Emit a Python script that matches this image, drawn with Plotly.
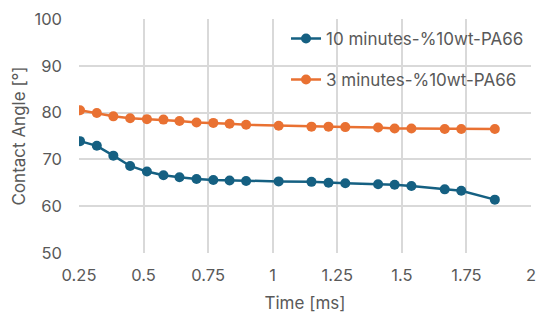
import plotly.graph_objects as go

time_ms = [0.254, 0.319, 0.383, 0.448, 0.513, 0.577, 0.639, 0.705, 0.770, 0.833, 0.897,
           1.023, 1.150, 1.216, 1.281, 1.408, 1.472, 1.537, 1.666, 1.730, 1.860]
angle_10min = [73.9, 72.9, 70.8, 68.6, 67.4, 66.6, 66.2, 65.8, 65.6, 65.5, 65.4,
               65.3, 65.2, 65.0, 64.9, 64.7, 64.6, 64.3, 63.6, 63.3, 61.4]
angle_3min = [80.5, 79.9, 79.2, 78.8, 78.6, 78.5, 78.2, 77.9, 77.8, 77.6, 77.4,
              77.2, 77.0, 77.0, 76.9, 76.8, 76.6, 76.6, 76.5, 76.5, 76.5]
series_names = ["10 minutes-%10wt-PA66", "3 minutes-%10wt-PA66"]
x_ticks = [0.25, 0.5, 0.75, 1, 1.25, 1.5, 1.75, 2]
x_tick_labels = ["0.25", "0.5", "0.75", "1", "1.25", "1.5", "1.75", "2"]
y_ticks = [50, 60, 70, 80, 90, 100]

FONT = "Inter, Open Sans, sans-serif"
TXT = "#595959"
GRID = "#d9d9d9"

fig = go.Figure()
fig.add_trace(go.Scatter(x=time_ms, y=angle_10min, mode="lines+markers", name=series_names[0],
                         legendgroup="a",
                         line=dict(color="#156082", width=2.5),
                         marker=dict(color="#156082", size=10)))
fig.add_trace(go.Scatter(x=time_ms, y=angle_3min, mode="lines+markers", name=series_names[1],
                         legendgroup="b",
                         line=dict(color="#E97132", width=2.5),
                         marker=dict(color="#E97132", size=10)))

fig.update_layout(
    width=550, height=322,
    margin=dict(l=79, r=19, t=19, b=69),
    paper_bgcolor="white", plot_bgcolor="white",
    font=dict(family=FONT, color=TXT, size=16),
    legend=dict(x=0.458, xanchor="left", y=0.992, yanchor="top",
                bgcolor="rgba(0,0,0,0)", font=dict(size=17, color=TXT),
                tracegroupgap=16, itemwidth=30),
    showlegend=True,
)
fig.update_xaxes(range=[0.25, 2], tickvals=x_ticks, ticktext=x_tick_labels,
                 showgrid=True, gridcolor=GRID, gridwidth=1.5, zeroline=False,
                 showline=False, ticks="", ticklabelstandoff=10, automargin=False,
                 tickfont=dict(size=16.5, color=TXT),
                 title=dict(text="Time [ms]", font=dict(size=17, color=TXT), standoff=13))
fig.update_yaxes(range=[50, 100], tickvals=y_ticks,
                 showgrid=True, gridcolor=GRID, gridwidth=1.5, zeroline=False,
                 showline=False, ticks="", ticklabelstandoff=16, automargin=False,
                 tickfont=dict(size=16.5, color=TXT),
                 title=dict(text="Contact Angle [°]", font=dict(size=17, color=TXT), standoff=4))

fig.write_html("out.html", post_script="document.body.style.margin='0';",
               config={"displayModeBar": False})
